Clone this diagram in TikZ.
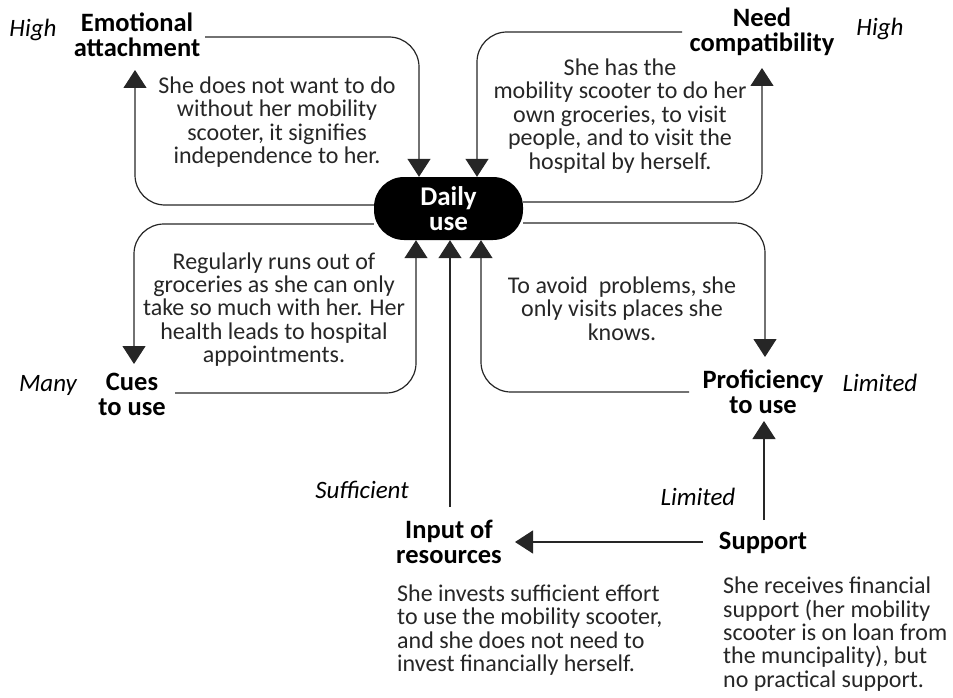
\documentclass[tikz,border=0pt]{standalone}
\usepackage{fontspec}
\setmainfont{Carlito}
\usetikzlibrary{arrows.meta,backgrounds}

\tikzset{
  conn/.style={draw=black!85, line width=1.2pt, rounded corners=30pt,
    -{Triangle[width=23pt,length=18pt]}},
  factor/.style={font=\fontsize{26.5}{25}\selectfont\bfseries, align=center, inner sep=0pt},
  level/.style={font=\fontsize{25}{25}\selectfont\itshape, inner sep=0pt},
  note/.style={font=\fontsize{24}{23.4}\selectfont, align=center, inner sep=0pt, text=black!85},
  lnote/.style={note, align=left, anchor=west},
  hub/.style={fill=black, rounded corners=30pt, minimum width=149pt, minimum height=63pt,
    text=white, font=\fontsize{27}{25}\selectfont\bfseries, align=center, inner sep=0pt}
}

\begin{document}
\begin{tikzpicture}[x=1pt, y=-1pt]
\useasboundingbox (0,0) rectangle (953,698);

% central node
\node[hub] (daily) at (448.5,208.5) {Daily\\use};

% factors
\node[factor] (ea)   at (137,34.5)  {Emotional\\attachment};
\node[factor] (nc)   at (762,31.5)  {Need\\compatibility};
\node[factor] (cues) at (132,394.5) {Cues\\to use};
\node[factor] (prof) at (763,391.5) {Proficiency\\to use};
\node[factor] (inp)  at (449,541.5) {Input of\\resources};
\node[factor] (sup)  at (763,543)   {Support};

% levels
\node[level] (l1) at (33,30)   {High};
\node[level] (l2) at (880,29)  {High};
\node[level] (l3) at (48,385)  {Many};
\node[level] (l4) at (880,383) {Limited};
\node[level] (l5) at (362,490) {Sufficient};
\node[level] (l6) at (698,497) {Limited};

% explanations
\node[note] (t1) at (277,122) {She does not want to do\\without her mobility\\scooter, it signifies\\independence to her.};
\node[note] (t2) at (620,116) {She has the\\mobility scooter to do her\\own groceries, to visit\\people, and to visit the\\hospital by herself.};
\node[note] (t3) at (274,309.5) {Regularly runs out of\\groceries as she can only\\take so much with her. Her\\health leads to hospital\\appointments.};
\node[note] (t4) at (622,308.5) {To avoid\ \ problems, she\\only visits places she\\knows.};
\node[lnote] (t5) at (397,630) {She invests sufficient effort\\to use the mobility scooter,\\and she does not need to\\invest financially herself.};
\node[lnote] (t6) at (723,634) {She receives financial\\support (her mobility\\scooter is on loan from\\the muncipality), but\\no practical support.};

% connector ends next to the factor labels
\coordinate (eaOut)   at (205,37);
\coordinate (eaIn)    at (135,70);
\coordinate (ncOut)   at (682,32);
\coordinate (ncIn)    at (762,68);
\coordinate (cuesIn)  at (134,364);
\coordinate (cuesOut) at (175,393);
\coordinate (profIn)  at (765,357);
\coordinate (profOut) at (689,392);
\coordinate (inpOut)  at (450,507);
\coordinate (supUp)   at (764,520);
\coordinate (profIn2) at (764,421);
\coordinate (supLeft) at (703,542);
\coordinate (inpIn)   at (515,542);

\begin{scope}[on background layer]
  % emotional attachment loop
  \draw[conn] (eaOut) -| (daily.north -| 419,0);
  \draw[conn] (daily.west |- 0,205) -| (eaIn);
  % need compatibility loop
  \draw[conn] (ncOut) -| (daily.north -| 477,0);
  \draw[conn] (daily.east |- 0,202) -| (ncIn);
  % cues to use loop
  \draw[conn] (daily.west |- 0,224) -| (cuesIn);
  \draw[conn] (cuesOut) -| (daily.south -| 416,0);
  % proficiency loop
  \draw[conn] (daily.east |- 0,223) -| (profIn);
  \draw[conn] (profOut) -| (daily.south -| 481,0);
  % input of resources
  \draw[conn] (inpOut) -- (daily.south -| inpOut);
  % support
  \draw[conn] (supUp) -- (profIn2);
  \draw[conn] (supLeft) -- (inpIn);
\end{scope}
\end{tikzpicture}
\end{document}
